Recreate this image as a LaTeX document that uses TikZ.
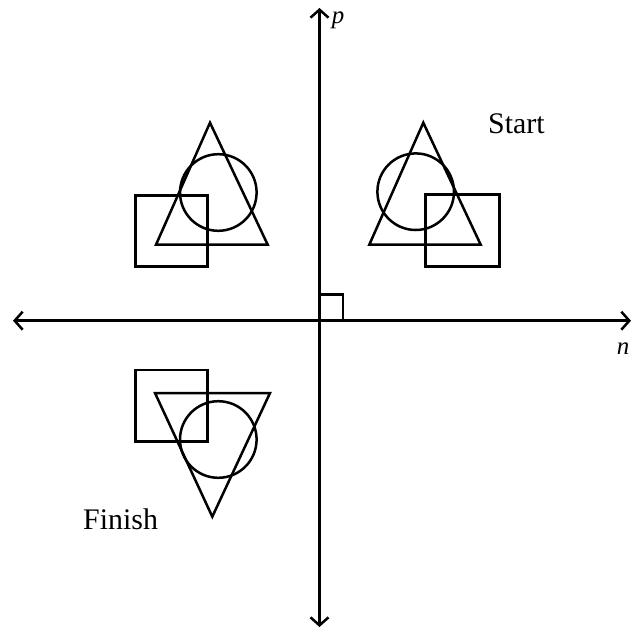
\documentclass[tikz,border=0pt]{standalone}
\usepackage{fontspec}
\setmainfont{Liberation Serif}
\usetikzlibrary{arrows.meta}
\begin{document}
\begin{tikzpicture}[x=1bp,y=-1bp,
  figline/.style={line width=2.5bp, line join=miter},
  axis/.style={line width=2.5bp, {Straight Barb[length=8bp,width=18bp,line width=2.5bp]}-{Straight Barb[length=8bp,width=18bp,line width=2.5bp]}},
  lbl/.style={font=\fontsize{30}{34}\selectfont, inner sep=0pt, anchor=base west},
  var/.style={font=\fontsize{25}{29}\selectfont\itshape, inner sep=0pt}]
\useasboundingbox (0,0) rectangle (638,629);
% axes
\coordinate (top) at (319.5,8);
\coordinate (bot) at (319.5,627);
\coordinate (lft) at (13,320.7);
\coordinate (rgt) at (631,320.7);
\draw[axis] (bot) -- (top);
\draw[axis] (lft) -- (rgt);
% right angle mark
\draw[line width=2.5bp] (319.5,294.5) -- (343,294.5) -- (343,320.7);
% labels
\node[var] (p) at (338,20) {p};
\node[var] (n) at (623,349) {n};
\node[lbl] (start) at (488,133.3) {Start};
\node[lbl] (finish) at (83,529.3) {Finish};
% top right figure
\draw[figline] (423.3,122.7) -- (480.7,244.7) -- (369.3,244.7) -- cycle;
\draw[figline] (415.7,191.7) circle[radius=38.3];
\draw[figline] (425.7,194.3) rectangle (499.3,266.7);
% top left figure
\draw[figline] (210,122.7) -- (267.7,244.7) -- (156,244.7) -- cycle;
\draw[figline] (218.3,192.5) circle[radius=38.3];
\draw[figline] (135.3,195.3) rectangle (207.7,266.7);
% bottom left figure
\draw[figline] (155,393) -- (270,393) -- (212.3,516.7) -- cycle;
\draw[figline] (218.3,439.5) circle[radius=38.3];
\draw[figline] (135.3,370) rectangle (207.7,441.7);
\end{tikzpicture}
\end{document}
